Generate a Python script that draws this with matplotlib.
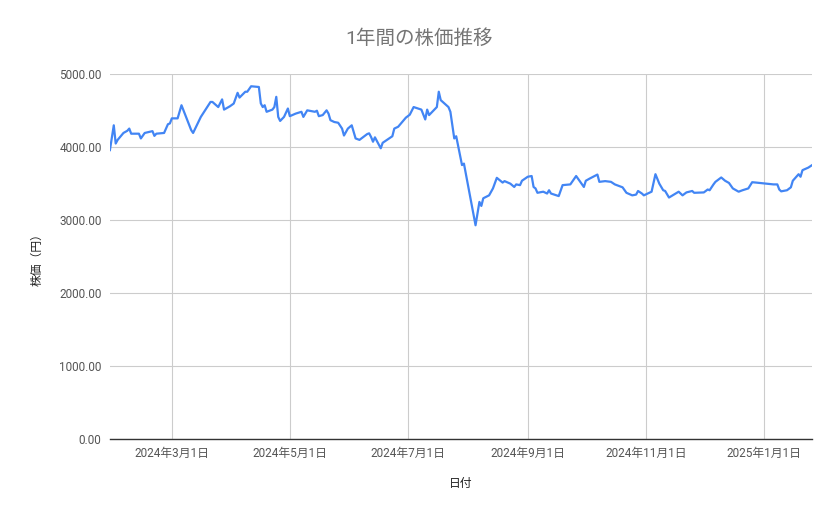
import matplotlib
matplotlib.use("Agg")
import matplotlib.pyplot as plt
import pandas as pd

plt.rcParams["font.family"] = ["Roboto", "Noto Sans CJK JP", "DejaVu Sans"]

# Values
dates = [
    "2024-01-29", "2024-01-31", "2024-02-01", "2024-02-02", "2024-02-05", "2024-02-07",
    "2024-02-08", "2024-02-09", "2024-02-13", "2024-02-14", "2024-02-16", "2024-02-20",
    "2024-02-21", "2024-02-22", "2024-02-26", "2024-02-28", "2024-02-29", "2024-03-01",
    "2024-03-04", "2024-03-06", "2024-03-08", "2024-03-11", "2024-03-12", "2024-03-16",
    "2024-03-21", "2024-03-22", "2024-03-25", "2024-03-27", "2024-03-28", "2024-03-31",
    "2024-04-02", "2024-04-04", "2024-04-05", "2024-04-08", "2024-04-09", "2024-04-11",
    "2024-04-15", "2024-04-16", "2024-04-17", "2024-04-18", "2024-04-19", "2024-04-22",
    "2024-04-23", "2024-04-24", "2024-04-25", "2024-04-26", "2024-04-28", "2024-04-30",
    "2024-05-01", "2024-05-04", "2024-05-07", "2024-05-08", "2024-05-10", "2024-05-14",
    "2024-05-15", "2024-05-16", "2024-05-18", "2024-05-20", "2024-05-21", "2024-05-22",
    "2024-05-24", "2024-05-26", "2024-05-28", "2024-05-29", "2024-05-31", "2024-06-02",
    "2024-06-04", "2024-06-06", "2024-06-10", "2024-06-11", "2024-06-12", "2024-06-13",
    "2024-06-14", "2024-06-17", "2024-06-18", "2024-06-23", "2024-06-24", "2024-06-26",
    "2024-06-30", "2024-07-02", "2024-07-04", "2024-07-08", "2024-07-10", "2024-07-11",
    "2024-07-12", "2024-07-16", "2024-07-17", "2024-07-18", "2024-07-22", "2024-07-23",
    "2024-07-25", "2024-07-26", "2024-07-29", "2024-07-30", "2024-08-05", "2024-08-07",
    "2024-08-08", "2024-08-09", "2024-08-12", "2024-08-14", "2024-08-16", "2024-08-19",
    "2024-08-20", "2024-08-23", "2024-08-25", "2024-08-26", "2024-08-28", "2024-08-29",
    "2024-09-01", "2024-09-03", "2024-09-04", "2024-09-05", "2024-09-06", "2024-09-09",
    "2024-09-11", "2024-09-12", "2024-09-13", "2024-09-17", "2024-09-19", "2024-09-23",
    "2024-09-26", "2024-09-30", "2024-10-01", "2024-10-03", "2024-10-07", "2024-10-08",
    "2024-10-11", "2024-10-14", "2024-10-16", "2024-10-20", "2024-10-22", "2024-10-25",
    "2024-10-27", "2024-10-28", "2024-10-30", "2024-10-31", "2024-11-04", "2024-11-06",
    "2024-11-08", "2024-11-10", "2024-11-11", "2024-11-13", "2024-11-17", "2024-11-18",
    "2024-11-20", "2024-11-22", "2024-11-25", "2024-11-26", "2024-12-01", "2024-12-03",
    "2024-12-04", "2024-12-06", "2024-12-07", "2024-12-10", "2024-12-12", "2024-12-14",
    "2024-12-16", "2024-12-19", "2024-12-21", "2024-12-24", "2024-12-26", "2024-12-28",
    "2025-01-06", "2025-01-08", "2025-01-09", "2025-01-10", "2025-01-13", "2025-01-15",
    "2025-01-16", "2025-01-19", "2025-01-20", "2025-01-21", "2025-01-24", "2025-01-26",
]
prices = [
    3960, 4300, 4050, 4100, 4195, 4225,
    4255, 4185, 4185, 4120, 4195, 4220,
    4155, 4185, 4195, 4315, 4325, 4395,
    4395, 4575, 4440, 4235, 4195, 4415,
    4620, 4620, 4550, 4655, 4515, 4560,
    4598, 4745, 4680, 4760, 4760, 4835,
    4825, 4600, 4550, 4575, 4485, 4515,
    4550, 4690, 4415, 4360, 4415, 4530,
    4425, 4460, 4485, 4415, 4505, 4485,
    4500, 4425, 4440, 4505, 4460, 4370,
    4345, 4335, 4255, 4160, 4255, 4300,
    4120, 4100, 4180, 4190, 4140, 4075,
    4135, 3985, 4060, 4150, 4255, 4280,
    4405, 4445, 4550, 4515, 4380, 4515,
    4440, 4550, 4760, 4645, 4550, 4485,
    4120, 4150, 3755, 3775, 2930, 3250,
    3195, 3300, 3340, 3435, 3580, 3515,
    3535, 3500, 3455, 3490, 3480, 3540,
    3595, 3605, 3455, 3435, 3375, 3390,
    3365, 3410, 3365, 3330, 3480, 3490,
    3605, 3455, 3540, 3570, 3625, 3525,
    3535, 3525, 3490, 3450, 3375, 3340,
    3350, 3400, 3365, 3340, 3390, 3630,
    3500, 3410, 3400, 3310, 3375, 3390,
    3340, 3380, 3400, 3375, 3380, 3420,
    3410, 3490, 3525, 3585, 3540, 3510,
    3435, 3390, 3410, 3435, 3520, 3515,
    3490, 3490, 3420, 3395, 3410, 3450,
    3540, 3630, 3595, 3685, 3720, 3755,
]
tick_dates = ["2024-03-01", "2024-05-01", "2024-07-01", "2024-09-01", "2024-11-01", "2025-01-01"]
tick_labels = ["2024年3月1日", "2024年5月1日", "2024年7月1日", "2024年9月1日", "2024年11月1日", "2025年1月1日"]
y_ticks = [0, 1000, 2000, 3000, 4000, 5000]

df = pd.DataFrame({"date": pd.to_datetime(dates), "price": prices})

fig = plt.figure(figsize=(8.39, 5.19), dpi=100)
ax = fig.add_axes([0.131, 0.154, 0.837, 0.703])

ax.plot(df["date"], df["price"], color="#4285f4", linewidth=1.6, solid_joinstyle="round")

ax.set_xlim(pd.Timestamp("2024-01-29"), pd.Timestamp("2025-01-26"))
ax.set_ylim(0, 5000)
ax.set_yticks(y_ticks)
ax.set_yticklabels([f"{v:.2f}" for v in y_ticks])
ax.set_xticks(pd.to_datetime(tick_dates))
ax.set_xticklabels(tick_labels)

ax.grid(True, color="#cccccc", linewidth=0.8)
ax.set_axisbelow(True)
for side in ["top", "right", "left"]:
    ax.spines[side].set_visible(False)
ax.spines["bottom"].set_color("#333333")
ax.spines["bottom"].set_linewidth(1.0)
ax.tick_params(length=0, labelsize=8.5, colors="#555555", pad=6)

# title is centred on the whole figure, not the plot area
fig.text(0.5, 0.925, "1年間の株価推移", ha="center", va="center", fontsize=14, color="#757575")
ax.set_xlabel("日付", fontsize=8.5, color="#222222", labelpad=12)
ax.set_ylabel("株価（円）", fontsize=8.5, color="#222222", labelpad=11)

fig.savefig("out.png", dpi=100)
